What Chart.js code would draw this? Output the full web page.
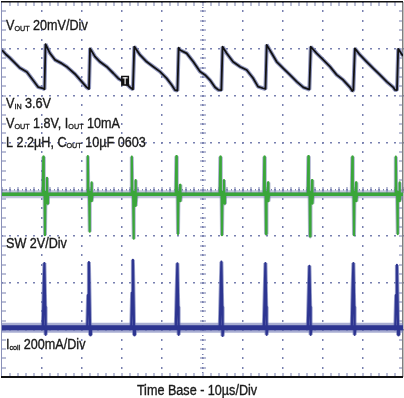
<!DOCTYPE html>
<html><head><meta charset="utf-8">
<script src="https://cdn.jsdelivr.net/npm/chart.js@4.4.0/dist/chart.umd.min.js"></script>
<style>html,body{margin:0;padding:0;background:#fff;overflow:hidden}#wrap{width:404px;height:398px;position:relative}</style>
</head><body><div id="wrap"><canvas id="c" width="404" height="398"></canvas></div>
<script>
// ---- data (time in µs, 10 µs/div) ----
const voutTime = [0,1.0,2.0,3.2,4.5,6.2,7.7,9.0,10.0,10.6,
  10.85,11.97,13.22,14.89,16.13,18.2,19.88,21.12,21.7,
  21.95,23.19,24.44,26.11,27.76,29.0,30.67,31.92,32.65,
  32.99,34.41,36.08,37.73,39.4,41.07,42.32,43.14,43.75,
  44.05,44.39,46.06,47.71,49.38,50.62,51.87,53.12,53.94,54.7,
  55.0,56.03,57.61,59.35,61.02,62.59,63.84,65.09,65.7,
  66.01,67.26,68.5,70.15,71.82,73.49,75.14,76.38,76.65,
  77.0,78.48,80.12,81.8,83.47,85.11,86.78,87.35,87.62,
  88.0,89.28,90.95,92.59,94.26,95.93,97.58,98.0,98.5,
  98.8,99.4,100];
// Vout ripple, mV (20 mV/div)
const voutMv = [9.5,7.6,6.1,4.0,1.8,0.1,-3.3,-6.3,-6.7,-7.2,
  12.0,8.1,5.3,3.8,2.4,-0.7,-4.0,-6.4,-7.1,
  10.2,6.7,4.5,2.4,-0.4,-2.6,-4.3,-6.4,-7.3,
  11.0,7.4,4.5,2.4,0.3,-2.6,-5.4,-7.6,-7.8,
  10.5,9.5,8.1,4.5,0.3,-1.1,-3.3,-6.4,-7.5,-7.6,
  10.9,8.1,4.5,2.4,1.0,-2.4,-6.1,-6.8,-7.1,
  11.7,8.1,4.5,1.7,-1.1,-4.0,-6.4,-7.2,-7.3,
  10.9,8.1,5.3,2.4,-1.1,-3.3,-6.4,-8.0,-7.5,
  10.2,7.4,4.5,1.7,-1.1,-4.0,-6.4,-7.5,-7.6,
  10.0,8.5,7.0];

// SW node, V (2 V/div)
const swTime = [0,
  10.17,10.30,10.42,10.62,10.72,10.84,11.12,11.22,11.32,11.47,
  21.27,21.40,21.52,21.72,21.82,21.94,22.22,22.32,22.42,22.57,
  32.24,32.37,32.49,32.69,32.79,32.91,33.19,33.29,33.39,33.54,
  43.34,43.47,43.59,43.79,43.89,44.01,44.29,44.39,44.49,44.64,
  54.31,54.44,54.56,54.76,54.86,54.98,55.26,55.36,55.46,55.61,
  65.29,65.42,65.54,65.74,65.84,65.96,66.24,66.34,66.44,66.59,
  76.26,76.39,76.51,76.71,76.81,76.93,77.21,77.31,77.41,77.56,
  87.23,87.36,87.48,87.68,87.78,87.90,88.18,88.28,88.38,88.53,
  98.08,98.21,98.33,98.53,98.63,98.75,99.03,99.13,99.23,99.38,
  100];
const swVolts = [0,
  0,1.6,0,0.1,-1.75,0,0,0.7,-0.4,0,
  0,1.62,0,0.1,-1.6,0,0,0.5,-0.3,0,
  0,1.6,0,0.1,-1.9,0,0,0.6,-0.5,0,
  0,1.62,0,0.1,-1.7,0,0,0.4,-0.3,0,
  0,1.6,0,0.1,-1.75,0,0,0.6,-0.4,0,
  0,1.6,0,0.1,-1.7,0,0,0.5,-0.3,0,
  0,1.62,0,0.1,-1.8,0,0,0.6,-0.4,0,
  0,1.6,0,0.1,-1.75,0,0,0.5,-0.3,0,
  0,1.6,0,0.1,-1.7,0,0,0.5,-0.3,0,
  0];

// Coil current, mA (200 mA/div)
const coilTime = [0,
  10.17,10.37,10.57,10.77,10.87,11.07,
  21.27,21.47,21.67,21.87,21.97,22.17,
  32.24,32.44,32.64,32.84,32.94,33.14,
  43.34,43.54,43.74,43.94,44.04,44.24,
  54.31,54.51,54.71,54.91,55.01,55.21,
  65.29,65.49,65.69,65.89,65.99,66.19,
  76.26,76.46,76.66,76.86,76.96,77.16,
  87.23,87.43,87.63,87.83,87.93,88.13,
  98.08,98.28,98.48,98.68,98.78,98.98,
  100];
const coilMa = [0,
  0,140,276,90,-30,0,
  0,140,280,90,-30,0,
  0,150,290,90,-30,0,
  0,140,275,90,-30,0,
  0,145,282,90,-35,0,
  0,130,276,90,-30,0,
  0,130,264,90,-30,0,
  0,160,276,90,-30,0,
  0,140,268,90,-30,0,
  0];

// noise floor (baseline) levels across the whole sweep
const floorTime = [0, 100];
const swFloorV = [0, 0];
const coilFloorMa = [0, 0];

// screen ranges: 10 horizontal divs, 8 vertical divs
const timeRange = [0, 100];
const voutRange = [-130, 30];
const swRange = [-7.8, 8.2];
const coilRange = [-210, 1390];
const triggerMark = {t: 30.7, mv: -3.6};

const labels = [
  {x:6, y:30, segs:[['V'],['OUT',1],[' 20mV/Div']]},
  {x:6, y:108, segs:[['V'],['IN',1],[' 3.6V']]},
  {x:6, y:128, segs:[['V'],['OUT',1],[' 1.8V, I'],['OUT',1],[' 10mA']]},
  {x:6, y:147, segs:[['L 2.2µH, C'],['OUT',1],[' 10µF 0603']]},
  {x:6, y:248, segs:[['SW 2V/Div']]},
  {x:6, y:349, segs:[['I'],['coil',1],[' 200mA/Div']]}
];
const footer = 'Time Base - 10µs/Div';

const pts = (xs, ys) => xs.map((v, i) => ({x: v, y: ys[i]}));
const FONT = '"Liberation Sans", Arial, sans-serif';
const SX = 0.9;

function drawRich(ctx, x, y, segs) {
  ctx.save();
  ctx.translate(x, y);
  ctx.scale(SX, 1);
  let cx = 0;
  for (const [t, sub] of segs) {
    ctx.font = (sub ? '8px ' : '14px ') + FONT;
    ctx.fillText(t, cx, sub ? 1 : 0);
    ctx.lineWidth = 0.35; ctx.strokeStyle = ctx.fillStyle; ctx.strokeText(t, cx, sub ? 1 : 0);
    cx += ctx.measureText(t).width;
  }
  ctx.restore();
}

const graticule = {
  id: 'graticule',
  beforeDraw(chart) {
    const {ctx} = chart;
    ctx.save(); ctx.fillStyle = '#fff'; ctx.fillRect(0, 0, chart.width, chart.height); ctx.restore();
  },
  beforeDatasetsDraw(chart) {
    const {ctx, chartArea: a, scales} = chart;
    const xs = scales.x, ys = scales.yI;
    const L = a.left, R = a.right, T = a.top, B = a.bottom;
    const vx = [], hy = [];
    for (let i = 0; i <= 10; i++) vx.push(xs.getPixelForValue(timeRange[0] + i * 10));
    for (let j = 0; j <= 8; j++) hy.push(ys.getPixelForValue(coilRange[1] - j * 200));
    const dx = (R - L) / 10, dy = (B - T) / 8;
    ctx.save();
    ctx.fillStyle = '#7880b0';
    for (let i = 1; i < 10; i++) {
      const gx = Math.round(vx[i]);
      for (let k = 0; k <= 40; k++) ctx.fillRect(gx - 1, Math.round(T + k * dy / 5) - 1, 1.5, 2);
    }
    for (let j = 1; j < 8; j++) {
      const gy = Math.round(hy[j]);
      for (let k = 0; k <= 50; k++) ctx.fillRect(Math.round(L + k * dx / 5) - 1, gy - 1, 2, 1.5);
    }
    const cxp = Math.round(vx[5]), cyp = Math.round(hy[4]);
    for (let k = 0; k <= 80; k++) ctx.fillRect(cxp - 1, Math.round(T + k * dy / 10), 1.5, 1);
    for (let k = 0; k <= 40; k++) ctx.fillRect(cxp - 3, Math.round(T + k * dy / 5) - 0.5, 6, 1);
    for (let k = 0; k <= 100; k++) ctx.fillRect(Math.round(L + k * dx / 10), cyp - 1, 1, 1.5);
    for (let k = 0; k <= 50; k++) ctx.fillRect(Math.round(L + k * dx / 5) - 0.5, cyp - 3, 1, 6);
    for (let k = 1; k < 50; k++) {
      const px = Math.round(L + k * dx / 5);
      ctx.fillRect(px - 0.5, T, 1, 4);
      ctx.fillRect(px - 0.5, B - 4, 1, 4);
    }
    for (let k = 1; k < 40; k++) {
      const py = Math.round(T + k * dy / 5);
      ctx.fillRect(L, py - 0.5, 4, 1);
      ctx.fillRect(R - 4, py - 0.5, 4, 1);
    }
    ctx.fillStyle = '#8a90b8'; ctx.fillRect(L - 1, T, 1, B - T);
    ctx.fillStyle = '#808080'; ctx.fillRect(R - 1, T, 1.5, B - T);
    ctx.fillStyle = '#111'; ctx.fillRect(L - 1, T - 1, R - L + 1, 1.5);
    ctx.fillRect(L - 1, B - 1, R - L + 1, 2);
    ctx.restore();
  },
  afterDatasetsDraw(chart) {
    const {ctx, scales} = chart;
    ctx.save();
    const tx = scales.x.getPixelForValue(triggerMark.t), ty = scales.yV.getPixelForValue(triggerMark.mv);
    ctx.fillStyle = '#111'; ctx.fillRect(tx - 4, ty - 5, 8, 10);
    ctx.fillStyle = '#fff'; ctx.fillRect(tx - 2.5, ty - 3.5, 5, 1.2); ctx.fillRect(tx - 0.6, ty - 3.5, 1.2, 7);
    ctx.fillStyle = '#1a1a1a';
    ctx.textBaseline = 'alphabetic';
    for (const l of labels) drawRich(ctx, l.x, l.y, l.segs);
    ctx.save();
    ctx.translate(197, 395); ctx.scale(SX, 1);
    ctx.font = '14px ' + FONT; ctx.textAlign = 'center';
    ctx.fillText(footer, 0, 0);
    ctx.lineWidth = 0.35; ctx.strokeStyle = ctx.fillStyle; ctx.strokeText(footer, 0, 0);
    ctx.restore();
    ctx.restore();
  }
};

const lineDs = (data, axis, color, width, order, join) => ({
  data, yAxisID: axis, borderColor: color, borderWidth: width, order,
  pointRadius: 0, tension: 0, fill: false, borderJoinStyle: join, borderCapStyle: 'butt'
});

new Chart(document.getElementById('c'), {
  type: 'line',
  data: {datasets: [
    lineDs(pts(voutTime, voutMv), 'yV', '#111111', 1.8, 0, 'round'),
    lineDs(pts(swTime, swVolts), 'yS', '#3aa63a', 2.2, 1, 'round'),
    lineDs(pts(coilTime, coilMa), 'yI', '#2d3591', 2.2, 2, 'round'),
    lineDs(pts(floorTime, coilFloorMa), 'yI', '#2d3591', 5, 3, 'bevel'),
    lineDs(pts(floorTime, swFloorV), 'yS', '#3aa63a', 3.5, 4, 'bevel'),
    lineDs(pts(coilTime, coilMa), 'yI', 'rgba(110,118,180,0.7)', 4, 5, 'bevel'),
    lineDs(pts(swTime, swVolts), 'yS', 'rgba(125,132,178,0.6)', 4, 6, 'bevel'),
    lineDs(pts(floorTime, coilFloorMa), 'yI', 'rgba(110,118,180,0.6)', 10, 7, 'bevel'),
    lineDs(pts(floorTime, swFloorV), 'yS', 'rgba(125,132,178,0.45)', 8, 8, 'bevel'),
    lineDs(pts(voutTime, voutMv), 'yV', 'rgba(125,132,178,0.85)', 4, 9, 'bevel')
  ]},
  options: {
    responsive: false, animation: false, events: [],
    layout: {padding: {left: 2, right: 1, top: 2, bottom: 21}},
    plugins: {legend: {display: false}, tooltip: {enabled: false}, title: {display: false}},
    scales: {
      x: {type: 'linear', min: timeRange[0], max: timeRange[1], display: false},
      yV: {type: 'linear', min: voutRange[0], max: voutRange[1], display: false},
      yS: {type: 'linear', min: swRange[0], max: swRange[1], display: false},
      yI: {type: 'linear', min: coilRange[0], max: coilRange[1], display: false}
    }
  },
  plugins: [graticule]
});
</script></body></html>
